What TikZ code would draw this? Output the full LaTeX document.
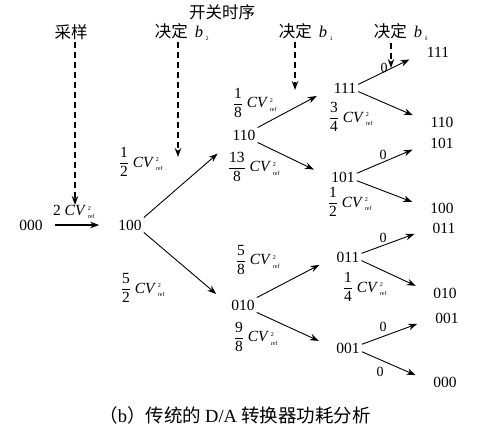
\documentclass[tikz,border=0pt]{standalone}
\usepackage{amsmath}
\usepackage{fontspec}
\setmainfont{Liberation Serif}
\newfontfamily\cjk{Noto Sans CJK SC}
\usetikzlibrary{arrows.meta, positioning}

\newcommand{\cv}{\textit{CV}$^{\,\text{\fontsize{6}{6}\selectfont 2}}_{\,\text{\fontsize{6}{6}\selectfont ref}}$}
\newcommand{\frc}[2]{$\dfrac{\text{#1}}{\text{#2}}$}
\newcommand{\bsub}[1]{{\rmfamily\itshape b}\,$_{\text{\tiny #1}}$}

\begin{document}
\begin{tikzpicture}[
  x=1pt, y=-1pt,
  code/.style={font=\fontsize{15.5}{18}\selectfont, inner sep=2pt},
  cost/.style={font=\fontsize{15.5}{17}\selectfont, inner sep=1pt},
  zero/.style={font=\fontsize{14}{16}\selectfont, inner sep=1pt},
  head/.style={font=\cjk\fontsize{16.5}{18}\selectfont, inner sep=2pt},
  arr/.style={-{Stealth[length=9pt,width=6.5pt]}, line width=0.9pt, shorten >=17pt},
  dsh/.style={-{Stealth[length=9pt,width=6.5pt]}, line width=1.8pt, dash pattern=on 6pt off 4pt},
]
\useasboundingbox (0,0) rectangle (482,433);

% Headings
\node[head] (timing) at (222,12) {开关时序};
\node[head] (sample) at (71,32) {采样};
\node[head] (dec2) at (182,32) {决定\hspace{7pt}\bsub{2}};
\node[head] (dec1) at (306,32) {决定\hspace{7pt}\bsub{1}};
\node[head] (dec0) at (401,32) {决定\hspace{7pt}\bsub{0}};

\coordinate (sampleTip) at (75,205);
\coordinate (dec2Tip) at (178,157);
\coordinate (dec1Tip) at (295,90);
\coordinate (dec0Tip) at (391,68);

\draw[dsh] (sample.south -| sampleTip) -- (sampleTip);
\draw[dsh] (dec2.south -| dec2Tip) -- (dec2Tip);
\draw[dsh] (dec1.south -| dec1Tip) -- (dec1Tip);
\draw[dsh] (dec0.south -| dec0Tip) -- (dec0Tip);

% States
\node[code] (s000) at (31,225) {000};
\node[code] (s100) at (130,225) {100};
\node[code] (s110) at (244,135) {110};
\node[code] (s010) at (243,305) {010};
\node[code] (m111) at (345,88) {111};
\node[code] (m101) at (343,177) {101};
\node[code] (m011) at (348,257) {011};
\node[code] (m001) at (348,348) {001};
\node[code] (f111) at (438,52) {111};
\node[code] (f110) at (442,122) {110};
\node[code] (f101) at (442,143) {101};
\node[code] (f100) at (442,208) {100};
\node[code] (f011) at (444,228) {011};
\node[code] (f010) at (445,293) {010};
\node[code] (f001) at (447,318) {001};
\node[code] (f000) at (445,382) {000};

% Energy labels
\node[cost] (c000) at (74,212) {2 \cv};
\node[cost] (c100a) at (141,162) {\frc{1}{2}\ \cv};
\node[cost] (c100b) at (143,288) {\frc{5}{2}\ \cv};
\node[cost] (c110a) at (255,103) {\frc{1}{8}\ \cv};
\node[cost] (c110b) at (254,167) {\frc{13}{8}\ \cv};
\node[cost] (c010a) at (258,260) {\frc{5}{8}\ \cv};
\node[cost] (c010b) at (256,337) {\frc{9}{8}\ \cv};
\node[cost] (c111) at (351,117) {\frc{3}{4}\ \cv};
\node[cost] (c101) at (350,202) {\frc{1}{2}\ \cv};
\node[cost] (c011) at (365,287) {\frc{1}{4}\ \cv};

\node[zero] (z111) at (384,68) {0};
\node[zero] (z101) at (383,155) {0};
\node[zero] (z011) at (383,238) {0};
\node[zero] (z001a) at (383,327) {0};
\node[zero] (z001b) at (380,372) {0};

% Transitions
\draw[arr, line width=1.4pt, shorten <=10pt] (s000) -- (s100);
\draw[arr] (s100.north east) -- (s110.south west);
\draw[arr] (s100.south east) -- (s010.west);
\draw[arr] (s110.north east) -- (m111.west);
\draw[arr] (s110.south east) -- (m101.west);
\draw[arr] (s010.north east) -- (m011.west);
\draw[arr] (s010.south east) -- (m001.west);
\draw[arr] (m111.15) -- (f111.west);
\draw[arr] (m111.-15) -- (f110.west);
\draw[arr] (m101.15) -- (f101.west);
\draw[arr] (m101.-15) -- (f100.west);
\draw[arr] (m011.15) -- (f011.west);
\draw[arr] (m011.-15) -- (f010.west);
\draw[arr] (m001.15) -- (f001.west);
\draw[arr] (m001.-15) -- (f000.west);

% Caption
\node[font=\cjk\fontsize{18.5}{20}\selectfont] (caption) at (235,415) {（{\rmfamily b}）传统的 {\rmfamily D/A} 转换器功耗分析};

\end{tikzpicture}
\end{document}
